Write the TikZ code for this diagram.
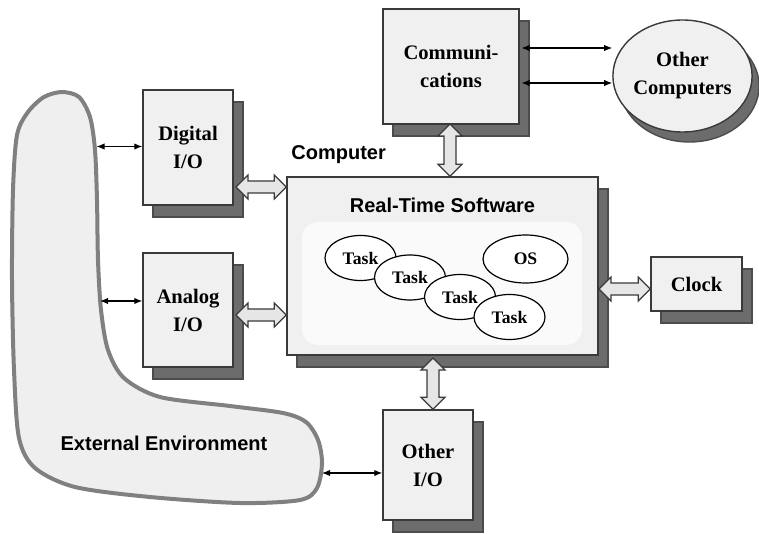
\documentclass[tikz,border=0pt]{standalone}
\usepackage{fontspec}
\setmainfont{Liberation Serif}
\setsansfont{Liberation Sans}
\usetikzlibrary{shadows,calc,shapes.geometric,arrows.meta}
\definecolor{boxfill}{HTML}{F0F0F0}
\definecolor{shad}{HTML}{6C6C6C}
\definecolor{edge}{HTML}{3A3A3A}
\definecolor{blobedge}{HTML}{808080}
\definecolor{blobfill}{HTML}{EFEFEF}
\definecolor{fatfill}{HTML}{E6E6E6}
\definecolor{innerfill}{HTML}{FAFAFA}
\newcommand\hfat[2]{\draw[fat] (#1) -- ++(12,-12) -- ++(0,6) -- ($(#1 -| #2)+(-12,-6)$) -- ++(0,-6) -- (#1 -| #2) -- ++(-12,12) -- ++(0,-6) -- ($(#1)+(12,6)$) -- ++(0,6) -- cycle;}
\newcommand\vfat[2]{\draw[fat] (#1) -- ++(12,12) -- ++(-6,0) -- ($(#1 |- #2)+(6,-12)$) -- ++(6,0) -- (#1 |- #2) -- ++(-12,-12) -- ++(6,0) -- ($(#1)+(-6,12)$) -- ++(-6,0) -- cycle;}
\begin{document}
\begin{tikzpicture}[x=0.5pt,y=-0.5pt,
  box/.style={draw=edge, line width=0.7pt, fill=boxfill,
    general shadow={shadow xshift=5pt, shadow yshift=-6pt, fill=shad, draw=shad!70!black},
    font=\fontsize{10.3}{14}\selectfont\bfseries, align=center, inner sep=0pt},
  task/.style={ellipse, draw=black, line width=0.6pt, fill=white, inner sep=0pt,
    minimum width=35.5pt, minimum height=22.5pt, font=\fontsize{8.8}{10}\selectfont\bfseries},
  thinarr/.style={line width=0.6pt, {Latex[length=4pt,width=3.2pt]}-{Latex[length=4pt,width=3.2pt]}},
  fat/.style={draw=edge, line width=0.6pt, fill=fatfill, line join=miter},
  lab/.style={font=\sffamily\bfseries\fontsize{10}{12}\selectfont, inner sep=0pt}]
\useasboundingbox (0,0) rectangle (759,534);
\fill[white] (0,0) rectangle (759,534);

% external environment blob
\draw[draw=blobedge, line width=2pt, fill=blobfill] plot[smooth cycle, tension=0.5] coordinates {
 (13,190) (17,135) (28,112) (44,97) (62,92) (79,97) (90,117) (95,150) (97,200) (98,260)
 (101,310) (108,350) (124,378) (160,397) (230,406) (283,413) (306,422) (318,440) (322,463)
 (317,488) (300,500) (240,503) (150,497) (75,487) (35,468) (19,438) (14,370) (12,280)};
\node[lab] (env) at (164,443) {External Environment};

% computer
\node[box, minimum width=155.5pt, minimum height=89pt] (comp) at (442.5,266) {};
\fill[innerfill, rounded corners=8pt] (302,222) rectangle (582,345);
\node[lab, anchor=west] (complab) at (291,155) {Computer};
\node[lab] (rts) at (442.5,205) {Real-Time Software};
\node[task] (t1) at (360.5,258) {Task};
\node[task] (t2) at (410,277.5) {Task};
\node[task] (t3) at (460,297) {Task};
\node[task] (t4) at (509.5,317) {Task};
\node[task, minimum width=42.5pt, minimum height=24pt] (os) at (525.5,259) {OS};

% peripheral boxes
\node[box, minimum width=45pt, minimum height=57.5pt] (dig) at (188,147.5) {Digital\\I/O};
\node[box, minimum width=45pt, minimum height=57pt] (ana) at (188,310) {Analog\\I/O};
\node[box, minimum width=68pt, minimum height=57.5pt] (comm) at (451,66.5) {Communi-\\cations};
\node[box, minimum width=45.5pt, minimum height=27pt] (clk) at (696.5,284) {Clock};
\node[box, minimum width=45pt, minimum height=55pt] (oio) at (428,465) {Other\\I/O};
\node[ellipse, draw=edge, line width=0.7pt, fill=boxfill, minimum width=67.5pt, minimum height=56pt,
  inner sep=0pt, align=center, font=\fontsize{10.3}{14}\selectfont\bfseries,
  general shadow={shadow xshift=3.5pt, shadow yshift=-5pt, fill=shad, draw=shad!70!black}]
  (oc) at (682.5,76) {Other\\Computers};

% fat arrows
\coordinate (da) at (236,187);
\coordinate (aa) at (236,315);
\coordinate (ka) at (599,289);
\coordinate (cv) at (450,124);
\coordinate (ov) at (433,358);
\hfat{da}{comp.west}
\hfat{aa}{comp.west}
\hfat{ka}{clk.west}
\vfat{cv}{comp.north}
\vfat{ov}{oio.north}

% thin arrows
\coordinate (e1) at (96.5,146.5);
\coordinate (e2) at (100,301);
\coordinate (e3) at (322,473);
\coordinate (c1) at (521.5,48);
\coordinate (c2) at (521.5,83);
\draw[thinarr] (e1) -- (e1 -| dig.west);
\draw[thinarr] (e2) -- (e2 -| ana.west);
\draw[thinarr] (e3) -- (e3 -| oio.west);
\draw[thinarr] (c1) -- (c1 -| oc.west);
\draw[thinarr] (c2) -- (c2 -| oc.west);
\end{tikzpicture}
\end{document}
